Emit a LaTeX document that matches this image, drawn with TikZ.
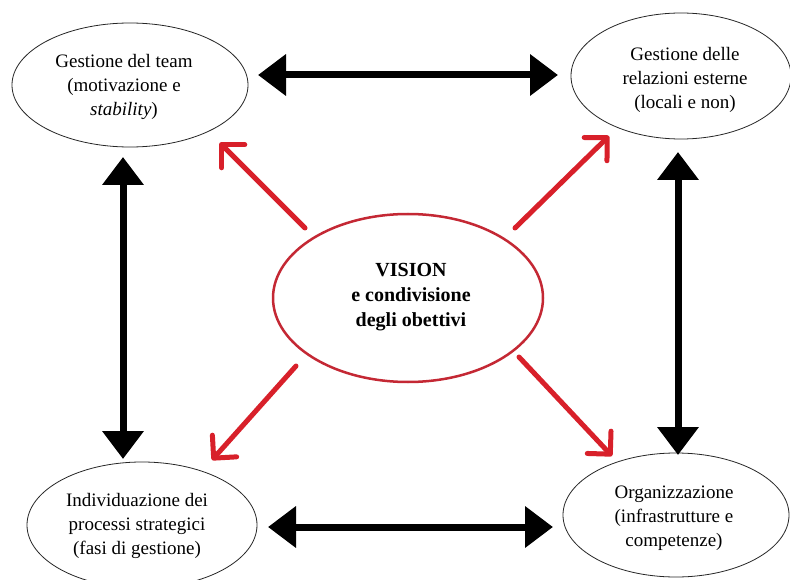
\documentclass[tikz,border=0pt]{standalone}
\usepackage{fontspec}
\setmainfont{Liberation Serif}
\usetikzlibrary{arrows.meta,shapes.geometric}
\definecolor{arrred}{RGB}{216,32,42}
\definecolor{ellred}{RGB}{196,40,52}
\begin{document}
\begin{tikzpicture}[x=1pt,y=-1pt,
  bubble/.style={ellipse, draw=black!85, line width=0.8pt, inner sep=0pt},
  txt/.style={align=center, font=\fontsize{19}{24}\selectfont, inner sep=0pt},
  bigarrow/.style={line width=7pt, {Triangle[width=40pt,length=28pt]}-{Triangle[width=40pt,length=28pt]}},
  redarrow/.style={draw=arrred, line width=5pt, line cap=round, -{Straight Barb[angle=90:23pt, round]}}
]
\useasboundingbox (0,0) rectangle (790,580);
\fill[white] (0,0) rectangle (790,580);

% ellipses
\node[bubble, minimum width=236pt, minimum height=124pt] (tl) at (130,85) {};
\node[bubble, minimum width=220pt, minimum height=126pt] (tr) at (681,76) {};
\node[bubble, minimum width=230pt, minimum height=126pt] (bl) at (142,525) {};
\node[bubble, minimum width=226pt, minimum height=124pt] (br) at (676,515) {};
\node[ellipse, draw=ellred, line width=2.5pt, minimum width=270pt, minimum height=168pt] (ce) at (408,298) {};

% texts
\node[txt] (tltext) at (124,87) {Gestione del team\\(motivazione e\\\textit{stability})};
\node[txt] (trtext) at (685,80) {Gestione delle\\relazioni esterne\\(locali e non)};
\node[txt] (bltext) at (137,526) {Individuazione dei\\processi strategici\\(fasi di gestione)};
\node[txt] (brtext) at (674,518) {Organizzazione\\(infrastrutture e\\competenze)};
\node[txt, font=\bfseries\fontsize{20}{25}\selectfont] (cetext) at (411,297) {VISION\\e condivisione\\degli obettivi};

% black arrow end points
\coordinate (topL) at (258,75);
\coordinate (topR) at (558,75);
\coordinate (botL) at (268,527);
\coordinate (botR) at (553,527);
\coordinate (lefT) at (123,157);
\coordinate (lefB) at (123,459);
\coordinate (rigT) at (678,152);
\coordinate (rigB) at (678,455);

\draw[bigarrow] (topL) -- (topR);
\draw[bigarrow] (botL) -- (botR);
\draw[bigarrow] (lefT) -- (lefB);
\draw[bigarrow] (rigT) -- (rigB);

% red arrow end points
\coordinate (r1s) at (305,228);
\coordinate (r1e) at (220,143);
\coordinate (r2s) at (515,228);
\coordinate (r2e) at (609,136);
\coordinate (r3s) at (296,366);
\coordinate (r3e) at (212,460);
\coordinate (r4s) at (519,357);
\coordinate (r4e) at (612,456);

\draw[redarrow] (r1s) -- (r1e);
\draw[redarrow] (r2s) -- (r2e);
\draw[redarrow] (r3s) -- (r3e);
\draw[redarrow] (r4s) -- (r4e);
\end{tikzpicture}
\end{document}
